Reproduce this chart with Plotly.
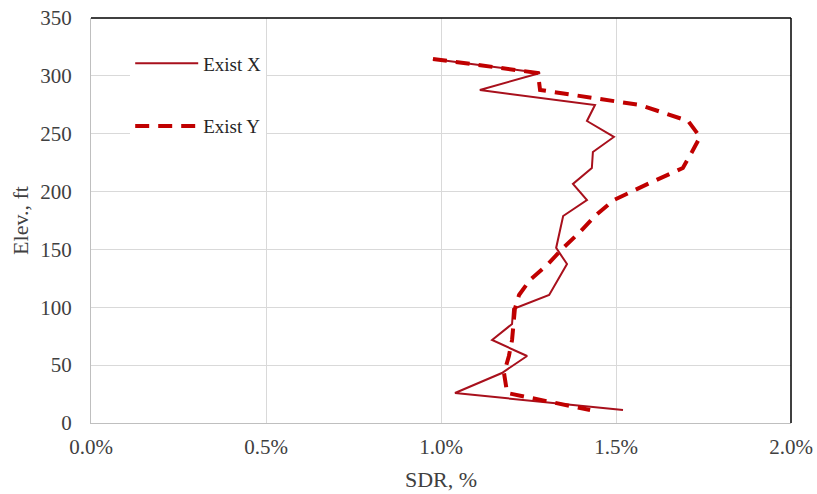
import plotly.graph_objects as go

# Elevation levels (ft)
elev = [314.6, 302.5, 287.8, 274.8, 261.0, 247.2, 234.2, 220.4, 206.6, 192.7,
        178.9, 165.1, 151.3, 137.4, 123.6, 110.6, 98.5, 85.6, 71.7, 57.9,
        43.2, 25.9, 11.2]

# SDR (%) - Exist X
sdr_x = [0.977, 1.283, 1.111, 1.440, 1.417, 1.494, 1.434, 1.431, 1.377, 1.417,
         1.349, 1.340, 1.329, 1.360, 1.334, 1.309, 1.206, 1.203, 1.146, 1.246,
         1.174, 1.040, 1.520]

# SDR (%) - Exist Y
sdr_y = [0.977, 1.277, 1.283, 1.569, 1.706, 1.740, 1.717, 1.691, 1.591, 1.494,
         1.440, 1.397, 1.349, 1.306, 1.254, 1.223, 1.211, 1.206, 1.203, 1.194,
         1.180, 1.189, 1.426]

x_ticks = [0.0, 0.5, 1.0, 1.5, 2.0]
x_tick_labels = [f"{v:.1f}%" for v in x_ticks]
y_ticks = [0, 50, 100, 150, 200, 250, 300, 350]

FONT = "Liberation Serif"
TXT = "#404040"

fig = go.Figure()
fig.add_trace(go.Scatter(x=sdr_x, y=elev, mode="lines", name="Exist X",
                         legendgroup="a",
                         line=dict(color="#A8101C", width=2)))
fig.add_trace(go.Scatter(x=sdr_y, y=elev, mode="lines", name="Exist Y",
                         legendgroup="b",
                         line=dict(color="#C00000", width=4, dash="14px,9px")))

fig.update_layout(
    width=817, height=494,
    margin=dict(l=91, r=26, t=18, b=71),
    paper_bgcolor="white", plot_bgcolor="white",
    font=dict(family=FONT, size=20, color=TXT),
    legend=dict(x=0.056, y=0.935, xanchor="left", yanchor="top",
                bgcolor="white", font=dict(family=FONT, size=19, color="#262626"),
                traceorder="grouped", tracegroupgap=35, itemwidth=63),
    xaxis=dict(range=[0, 2.0], tickvals=x_ticks, ticktext=x_tick_labels,
               showgrid=True, gridcolor="#D9D9D9", gridwidth=1,
               showline=True, linecolor="#BFBFBF", linewidth=1,
               zeroline=False, ticks="", ticklabelstandoff=5, automargin=False,
               ticklabeloverflow="allow",
               title=dict(text="SDR, %", font=dict(family=FONT, size=22, color=TXT),
                          standoff=13),
               tickfont=dict(family=FONT, size=21, color=TXT)),
    yaxis=dict(range=[0, 350], tickvals=y_ticks,
               showgrid=True, gridcolor="#D9D9D9", gridwidth=1,
               showline=True, linecolor="#BFBFBF", linewidth=1,
               zeroline=False, ticks="", ticklabelstandoff=14, automargin=False,
               ticklabeloverflow="allow",
               title=dict(text="Elev., ft", font=dict(family=FONT, size=22, color=TXT),
                          standoff=5),
               tickfont=dict(family=FONT, size=21, color=TXT)),
    shapes=[
        dict(type="line", xref="paper", yref="paper", x0=0, x1=1, y0=1, y1=1,
             line=dict(color="black", width=1.5)),
        dict(type="line", xref="paper", yref="paper", x0=1, x1=1, y0=0, y1=1,
             line=dict(color="black", width=1.5)),
    ],
)

fig.write_html("out.html",
               config={"displayModeBar": False},
               post_script="document.body.style.margin='0';document.body.style.overflow='hidden';")
